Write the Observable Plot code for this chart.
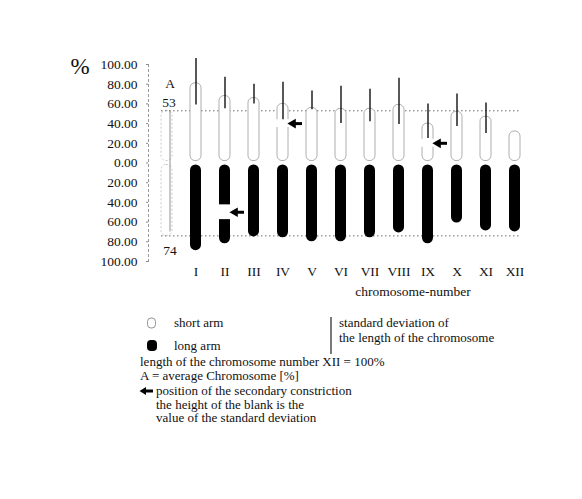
<!DOCTYPE html>
<html><head><meta charset="utf-8">
<script src="https://cdn.jsdelivr.net/npm/d3@7"></script>
<script src="https://cdn.jsdelivr.net/npm/@observablehq/plot@0.6"></script>
<style>
body{margin:0;background:#fff;font-family:"Liberation Serif",serif;color:#111}
#wrap{position:relative;width:582px;height:499px;overflow:hidden}
#chart{position:absolute;left:0;top:0}
.lg{position:absolute;font-size:13px;line-height:13.5px;white-space:nowrap;color:#111}
.sym{position:absolute}
</style></head><body>
<div id="wrap">
  <div id="chart"></div>
  <svg class="sym" style="left:146px;top:317px" width="12" height="36">
    <rect x="1.5" y="1" width="8" height="10" rx="3.5" fill="white" stroke="#888" stroke-width="0.9"/>
    <rect x="1" y="23" width="10" height="11" rx="4" fill="black"/>
  </svg>
  <div class="lg" style="left:174px;top:316px">short arm</div>
  <div class="lg" style="left:174px;top:339px">long arm</div>
  <svg class="sym" style="left:329px;top:316px" width="4" height="40"><line x1="2" y1="1" x2="2" y2="38" stroke="#222" stroke-width="1.2"/></svg>
  <div class="lg" style="left:339px;top:315px;line-height:15px">standard deviation of<br>the length of the chromosome</div>
  <div class="lg" style="left:140px;top:355px">length of the chromosome number XII = 100%<br>A = average Chromosome [%]</div>
  <svg class="sym" style="left:139px;top:386px" width="16" height="10">
    <path d="M0.5,5 L7,1 L7,3.6 L14,3.6 L14,6.4 L7,6.4 L7,9 Z" fill="black"/>
  </svg>
  <div class="lg" style="left:156px;top:384px">position of the secondary constriction<br>the height of the blank is the<br>value of the standard deviation</div>
</div>
<script>
const chromosomes = ["I","II","III","IV","V","VI","VII","VIII","IX","X","XI","XII"];
const shortArm = [81, 68, 66, 60, 56, 55, 55, 59, 40, 52, 47, 32];
const longArm  = [89, 82, 75, 76, 80, 80, 76, 71, 82, 61, 69, 70];
const sdHigh = [106, 87, 80, 82, 73, 78, 75, 86, 60, 70, 61, null];
const sdLow  = [59, 55, 60, 44, 54, 40, 42, 39, 25, 37, 30, null];
const avgLabel = "A";
const avgShort = 53;
const avgLong = 74;
const constrictionChr = ["II", "IV", "IX"];
const constrictionArm = ["long", "short", "short"];
const constrictionPos = [50, 40, 20];
const constrictionSD = [7.5, 4, 4];
const yTicks = [100, 80, 60, 40, 20, 0, -20, -40, -60, -80, -100];

const sign = arm => arm === "long" ? -1 : 1;
const arms = chromosomes.map((c, i) => ({chromosome: c, short: shortArm[i], long: longArm[i]}));
const sds = chromosomes.map((c, i) => ({chromosome: c, hi: sdHigh[i], lo: sdLow[i]})).filter(d => d.hi != null);
const constr = constrictionChr.map((c, i) => ({
  chromosome: c,
  y: sign(constrictionArm[i]) * constrictionPos[i],
  y1: sign(constrictionArm[i]) * (constrictionPos[i] - constrictionSD[i]),
  y2: sign(constrictionArm[i]) * (constrictionPos[i] + constrictionSD[i])
}));
const avg = [{chromosome: avgLabel, short: avgShort, long: avgLong}];
const gap = 2;

const chart = Plot.plot({
  width: 582, height: 310,
  marginTop: 64, marginLeft: 142, marginRight: 43, marginBottom: 49,
  style: {fontFamily: "Liberation Serif, serif", fontSize: "13px", color: "#111", background: "white"},
  x: {domain: [avgLabel, ...chromosomes], padding: 0.62, label: null},
  y: {domain: [-100, 100], label: null},
  marks: [
    Plot.frame({anchor: "left", dx: 6, stroke: "#999", strokeDasharray: "2,3"}),
    Plot.axisY({ticks: yTicks, tickFormat: d => Math.abs(d).toFixed(2), tickSize: 2, tickPadding: 9, dx: 6, stroke: "#888", fontSize: 13.5, label: null}),
    Plot.axisX({tickSize: 0, tickPadding: 5, tickFormat: d => d === avgLabel ? "" : d, fontSize: 13.5, label: null}),
    // average chromosome (faint)
    Plot.barY(avg, {x: "chromosome", y1: gap, y2: "short", fill: "white", stroke: "#bbb", strokeWidth: 0.8, strokeDasharray: "2,2", rx: 5}),
    Plot.barY(avg, {x: "chromosome", y1: -gap, y2: d => -d.long, fill: "white", stroke: "#bbb", strokeWidth: 0.8, strokeDasharray: "2,2", rx: 5}),
    Plot.ruleX(avg, {x: "chromosome", y1: "short", y2: d => -d.long + 4, dx: 3, stroke: "#777", strokeWidth: 0.8}),
    // average lines
    Plot.ruleY(avg, {y: "short", x1: () => avgLabel, x2: () => "XII", stroke: "#444", strokeWidth: 0.8, strokeDasharray: "1.5,2.5"}),
    Plot.ruleY(avg, {y: d => -d.long, x1: () => avgLabel, x2: () => "XII", stroke: "#444", strokeWidth: 0.8, strokeDasharray: "1.5,2.5"}),
    // arms
    Plot.barY(arms, {x: "chromosome", y1: gap, y2: "short", fill: "white", stroke: "#999", strokeWidth: 0.8, rx: 5}),
    Plot.barY(arms, {x: "chromosome", y1: -gap, y2: d => -d.long, fill: "black", rx: 5.5}),
    // blanks (secondary constrictions)
    Plot.barY(constr, {x: "chromosome", y1: "y1", y2: "y2", fill: "white", insetLeft: -1.5, insetRight: -1.5}),
    // standard deviation
    Plot.ruleX(sds, {x: "chromosome", y1: "lo", y2: "hi", stroke: "#111", strokeWidth: 1.4}),
    // arrows
    Plot.tickY(constr, {x: "chromosome", y: "y", dx: 14, stroke: "black", strokeWidth: 3}),
    Plot.dot(constr, {x: "chromosome", y: "y", dx: 10, symbol: "triangle", rotate: -90, r: 3.6, fill: "black", stroke: "none"}),
    // labels
    Plot.text(avg, {x: "chromosome", y: "short", text: () => avgLabel, dy: -27, dx: 3, fontSize: 13.5}),
    Plot.text(avg, {x: "chromosome", y: "short", text: d => String(d.short), dy: -8, dx: 2, fontSize: 13.5}),
    Plot.text(avg, {x: "chromosome", y: d => -d.long, text: d => String(d.long), dy: 15, dx: 3, fontSize: 13.5}),
    Plot.text(["%"], {frameAnchor: "top-left", dx: -72, dy: -7, fontSize: 23}),
    Plot.text(["chromosome-number"], {frameAnchor: "bottom", dx: 72, dy: 34, fontSize: 13.5})
  ]
});
document.getElementById("chart").appendChild(chart);
</script>
</body></html>
